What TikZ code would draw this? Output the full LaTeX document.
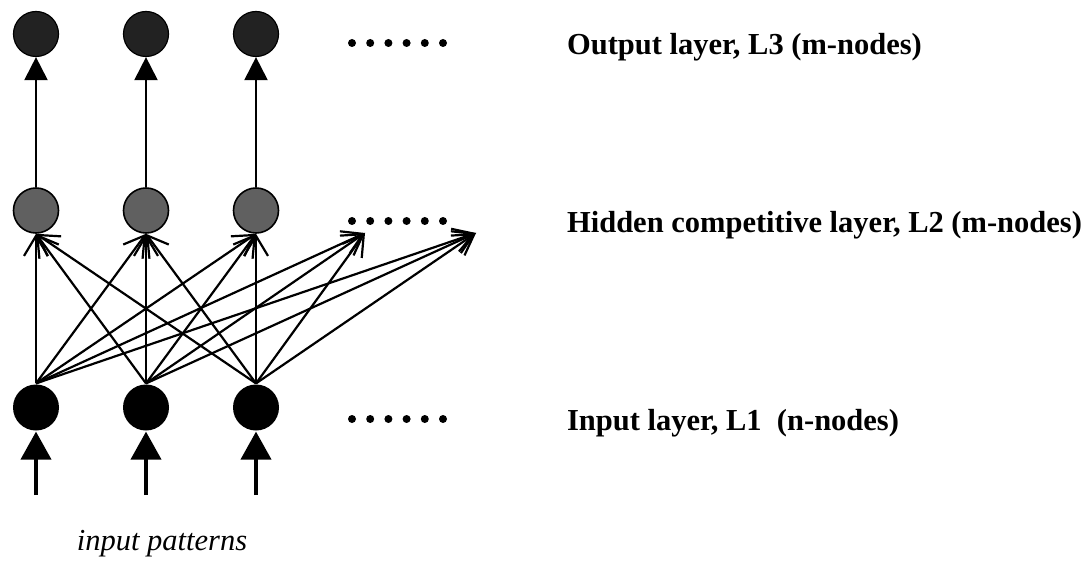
\documentclass[tikz,border=0pt]{standalone}
\usepackage{fontspec}
\setmainfont{Liberation Serif}
\usepackage{tikz}
\usetikzlibrary{arrows.meta,positioning}
\definecolor{net@out}{RGB}{34,34,34}
\definecolor{net@hid}{RGB}{96,96,96}
\tikzset{
  net/.style={
    x=1pt, y=-1pt,
    line width=2.2pt,
    >={Straight Barb[length=20pt,width=24pt]}
  },
  outnode/.style={                 % output unit
    circle, draw=black, line width=1.2pt,
    fill=net@out, minimum size=45pt, inner sep=0pt
  },
  hidnode/.style={                 % competitive unit
    circle, draw=black, line width=1.6pt,
    fill=net@hid, minimum size=45pt, inner sep=0pt
  },
  innode/.style={                  % input unit
    circle, fill=black, minimum size=46pt, inner sep=0pt
  },
  link/.style={->, line width=2.2pt},
  feed/.style={-{Triangle[length=23pt,width=23pt]}, line width=2pt},
  inarrow/.style={-{Triangle[length=28pt,width=30pt]}, line width=4pt},
  layerlabel/.style={anchor=base west, inner sep=0pt,
    font=\bfseries\fontsize{30.5}{36}\selectfont},
  patlabel/.style={anchor=base, inner sep=0pt,
    font=\itshape\fontsize{30.5}{36}\selectfont}
}

\begin{document}
\begin{tikzpicture}[net]
\useasboundingbox (0,0) rectangle (1086,561);

% Output layer L3
\node[outnode] (O1) at (36, 34) {};
\node[outnode] (O2) at (146, 34) {};
\node[outnode] (O3) at (256, 34) {};

% Hidden competitive layer L2
\node[hidnode] (H1) at (36, 210.5) {};
\node[hidnode] (H2) at (146, 210.5) {};
\node[hidnode] (H3) at (256, 210.5) {};
\coordinate (P1) at (365, 233);
\coordinate (P2) at (476, 233);

% Input layer L1
\node[innode] (I1) at (36, 407.5) {};
\node[innode] (I2) at (146, 407.5) {};
\node[innode] (I3) at (256, 407.5) {};
\coordinate (S1) at (36, 495);
\coordinate (S2) at (146, 495);
\coordinate (S3) at (256, 495);

% "more units" dots
\foreach \y in {43, 221, 419}
  \foreach \k in {0,...,5}
    \fill (352+18.2*\k, \y) circle (4pt);

% input patterns coming in
\draw[inarrow] (S1) -- (I1.south);
\draw[inarrow] (S2) -- (I2.south);
\draw[inarrow] (S3) -- (I3.south);

% full connection L1 -> L2
\draw[link] (I1.north) -- (H1.south);
\draw[link] (I1.north) -- (H2.south);
\draw[link] (I1.north) -- (H3.south);
\draw[link] (I1.north) -- (P1);
\draw[link] (I1.north) -- (P2);
\draw[link] (I2.north) -- (H1.south);
\draw[link] (I2.north) -- (H2.south);
\draw[link] (I2.north) -- (H3.south);
\draw[link] (I2.north) -- (P1);
\draw[link] (I2.north) -- (P2);
\draw[link] (I3.north) -- (H1.south);
\draw[link] (I3.north) -- (H2.south);
\draw[link] (I3.north) -- (H3.south);
\draw[link] (I3.north) -- (P1);
\draw[link] (I3.north) -- (P2);

% one-to-one L2 -> L3
\draw[feed] (H1.north) -- (O1.south);
\draw[feed] (H2.north) -- (O2.south);
\draw[feed] (H3.north) -- (O3.south);

% layer names
\node[layerlabel] (L3) at (566, 55) {Output layer, L3 (m-nodes)};
\node[layerlabel] (L2) at (566, 233) {Hidden competitive layer, L2 (m-nodes)};
\node[layerlabel] (L1) at (566, 430) {Input layer, L1~ (n-nodes)};
\node[patlabel] (pat) at (162, 550) {input patterns};

\end{tikzpicture}
\end{document}
